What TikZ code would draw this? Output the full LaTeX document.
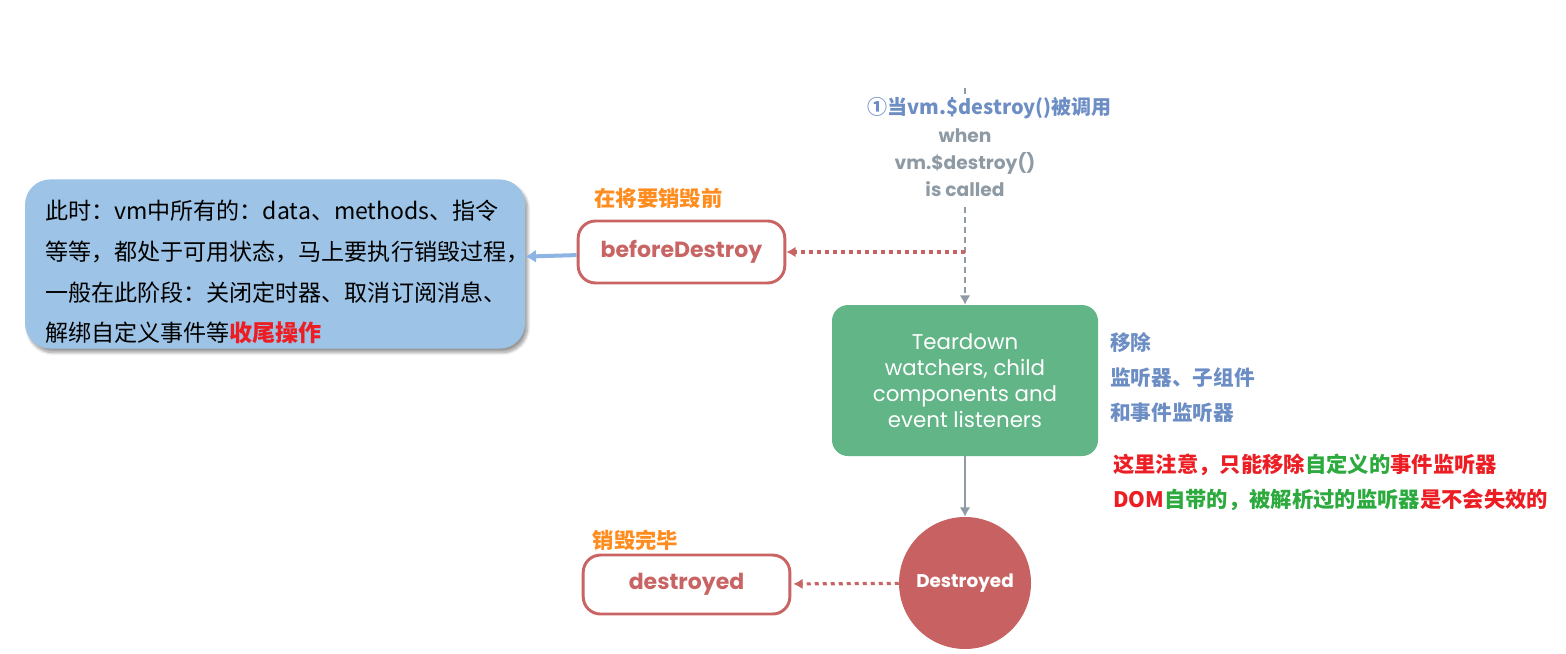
\documentclass[tikz,border=0pt]{standalone}
\usepackage{fontspec}
\setmainfont{Poppins}
\newfontfamily\cjk{Noto Sans CJK SC}
\usetikzlibrary{arrows.meta,shadows.blur}
\definecolor{memoblue}{RGB}{157,195,230}
\definecolor{memoarrow}{RGB}{141,180,226}
\definecolor{hookred}{RGB}{200,100,100}
\definecolor{hookorange}{RGB}{255,140,30}
\definecolor{callblue}{RGB}{108,142,196}
\definecolor{flowgrey}{RGB}{142,154,164}
\definecolor{teargreen}{RGB}{98,181,135}
\definecolor{endfill}{RGB}{200,98,98}
\definecolor{tipred}{RGB}{236,30,36}
\definecolor{tipgreen}{RGB}{44,170,62}
\begin{document}
\begin{tikzpicture}[>={Latex[length=7bp,width=8bp]},line join=bevel,
  hookbox/.style={draw=hookred,line width=2.2bp,rounded corners=13bp,minimum width=155bp,
    text=hookred,font=\bfseries\fontsize{16.5bp}{19bp}\selectfont},
  hooktitle/.style={inner sep=0pt,text=hookorange,font=\cjk\bfseries\fontsize{16bp}{19bp}\selectfont},
  hookdot/.style={draw=hookred,line width=2.4bp,dash pattern=on 3bp off 3bp},
  callline/.style={draw=flowgrey,line width=1.8bp,dash pattern=on 4.5bp off 3bp},
  flowline/.style={draw=flowgrey,line width=2bp},
  sidenote/.style={inner sep=0pt,anchor=west,align=left},
]
\useasboundingbox (0bp,0bp) rectangle (1174.5bp,490.5bp);
%%
  % Node: memo
  \node [fill=memoblue,rounded corners=19bp,minimum height=126bp,text width=345bp,inner xsep=15bp,
    align=left,font=\cjk\fontsize{17.3bp}{30.5bp}\selectfont,
    blur shadow={shadow xshift=2bp,shadow yshift=-3bp,shadow blur steps=8}] (memo) at (206.25bp,292.5bp)
    {\rule{0pt}{27bp}此时：vm中所有的：data、methods、指令\\等等，都处于可用状态，马上要执行销毁过程，\\一般在此阶段：关闭定时器、取消订阅消息、\\解绑自定义事件等\textcolor{tipred}{\bfseries 收尾操作}};
  % Node: beforeDestroy
  \node [hookbox,minimum height=46.5bp] (before) at (511.1bp,301.5bp) {beforeDestroy};
  \node [hooktitle] (beforetitle) at (493.9bp,342bp) {在将要销毁前};
  % Node: call
  \coordinate (top) at (723.75bp,424.5bp);
  \node [inner sep=0pt,text=callblue,font=\cjk\bfseries\fontsize{15bp}{18bp}\selectfont] (call) at (742.1bp,409.5bp)
    {①当vm.\$destroy()被调用};
  \node [inner xsep=0pt,inner ysep=7bp,align=center,text=flowgrey,font=\bfseries\fontsize{14bp}{20.25bp}\selectfont] (when)
    at (723.75bp,368.25bp) {when\\vm.\$destroy()\\is called};
  % Node: teardown
  \node [fill=teargreen,rounded corners=12bp,minimum width=199.5bp,minimum height=113.25bp,align=center,
    text=white,font=\fontsize{16bp}{19.5bp}\selectfont] (teardown) at (723.75bp,205.1bp)
    {Teardown\\watchers, child\\components and\\event listeners};
  \node [sidenote,text=callblue,font=\cjk\bfseries\fontsize{15.5bp}{26.25bp}\selectfont] (remove) at (832.5bp,207bp)
    {移除\\监听器、子组件\\和事件监听器};
  \node [sidenote,font=\cjk\bfseries\fontsize{16bp}{26.25bp}\selectfont] (note) at (834.75bp,128.6bp)
    {\textcolor{tipred}{这里注意，只能移除}\textcolor{tipgreen}{自定义的}\textcolor{tipred}{事件监听器}\\
     \textcolor{tipred}{DOM}\textcolor{tipgreen}{自带的，被解析过的监听器}\textcolor{tipred}{是不会失效的}};
  % Node: Destroyed
  \node [circle,fill=endfill,minimum size=99bp,inner sep=0pt,text=white,
    font=\bfseries\fontsize{13.8bp}{16bp}\selectfont] (end) at (723.75bp,53.25bp) {Destroyed};
  % Node: destroyed
  \node [hookbox,minimum height=44.25bp] (after) at (514.9bp,52.1bp) {destroyed};
  \node [hooktitle] (aftertitle) at (476.6bp,85.5bp) {销毁完毕};
%%
  % Edge: beforeDestroy -> memo
  \draw [-{Latex[length=8bp,width=10bp]},draw=memoarrow,line width=3bp] (before) -- (memo);
  % Edge: top -> call -> teardown
  \draw [callline] (top) -- (top |- call.north);
  \draw [callline,->,flowgrey] (when.south) -- (teardown.north);
  % Edge: call -> beforeDestroy
  \draw [hookdot,->,hookred] (when.south |- before.east) -- (before.east);
  % Edge: teardown -> Destroyed
  \draw [flowline,->,flowgrey] (teardown) -- (end);
  % Edge: Destroyed -> destroyed
  \draw [hookdot,->,hookred,shorten >=1.5bp] (end) -- (after);
%
\end{tikzpicture}
\end{document}
